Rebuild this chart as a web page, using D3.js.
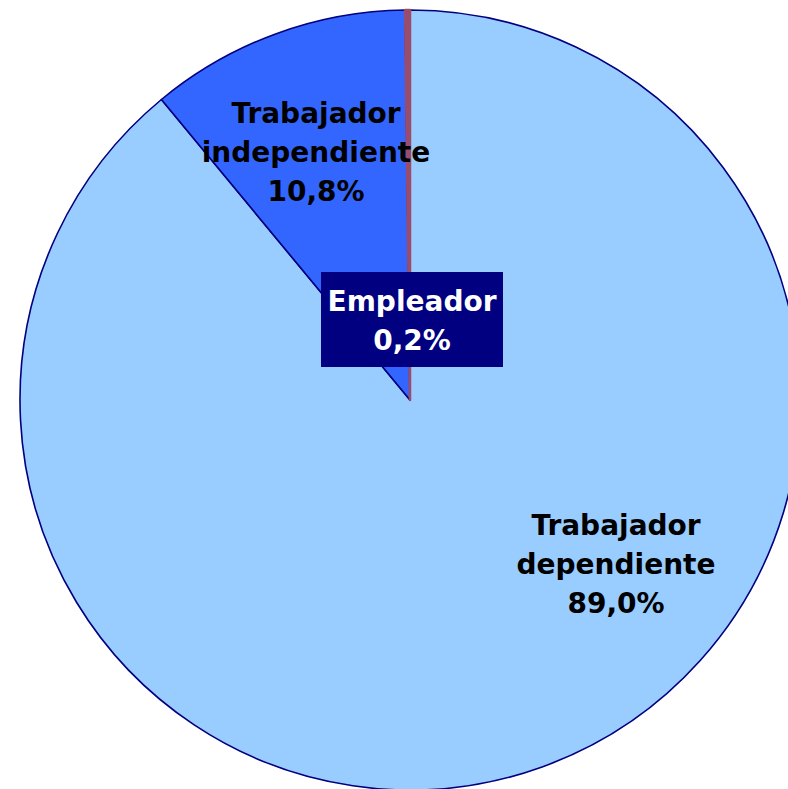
<!DOCTYPE html>
<html>
<head>
<meta charset="utf-8">
<script src="https://cdn.jsdelivr.net/npm/d3@7"></script>
<style>
  body { margin: 0; background: #fff; }
  svg { display: block; }
  text { font-family: "DejaVu Sans", Verdana, sans-serif; font-weight: bold; }
</style>
</head>
<body>
<svg width="788" height="789"></svg>
<script>
// categories and their shares (%), clockwise from 12 o'clock
var categories = ["Trabajador dependiente", "Trabajador independiente", "Empleador"];
var values = [89.0, 10.8, 0.2];
var labels = [["Trabajador", "dependiente", "89,0%"],
              ["Trabajador", "independiente", "10,8%"],
              ["Empleador", "0,2%"]];
var colors = ["#99ccff", "#3366ff", "#994c6c"];

var svg = d3.select("svg"),
    cx = 410, cy = 400, radius = 390;

var data = categories.map(function(c, i) {
    return {name: c, value: values[i], lines: labels[i], color: colors[i]};
});

var pie = d3.pie().sort(null).value(function(d) { return d.value; });
var arc = d3.arc().innerRadius(0).outerRadius(radius);

var g = svg.append("g")
    .attr("transform", "translate(" + cx + "," + cy + ")");

var arcs = pie(data);

g.selectAll("path.slice")
    .data(arcs)
    .enter().append("path")
    .attr("class", "slice")
    .attr("d", arc)
    .attr("fill", function(d) { return d.data.color; })
    .attr("stroke", function(d, i) { return i == 2 ? d.data.color : "#000080"; })
    .attr("stroke-width", function(d, i) { return i == 2 ? 2.5 : 1.6; })
    .attr("stroke-linejoin", "round");

// label offsets from the centre
var labelPos = [[206, 164], [-94, -248], [2, -80]];
var fontSize = 28, lineH = 39;

arcs.forEach(function(a, i) {
    var pos = labelPos[i];
    var lines = a.data.lines;
    var lg = g.append("g").attr("transform", "translate(" + pos[0] + "," + pos[1] + ")");
    if (i == 2) {
        lg.append("rect")
            .attr("x", -91).attr("y", -48)
            .attr("width", 182).attr("height", 95)
            .attr("fill", "#000080");
    }
    var t = lg.append("text")
        .attr("text-anchor", "middle")
        .attr("font-size", fontSize)
        .attr("fill", i == 2 ? "#fff" : "#000");
    lines.forEach(function(s, k) {
        t.append("tspan")
            .attr("x", 0)
            .attr("y", (k - (lines.length - 1) / 2) * lineH)
            .attr("dy", "0.36em")
            .text(s);
    });
});
</script>
</body>
</html>
